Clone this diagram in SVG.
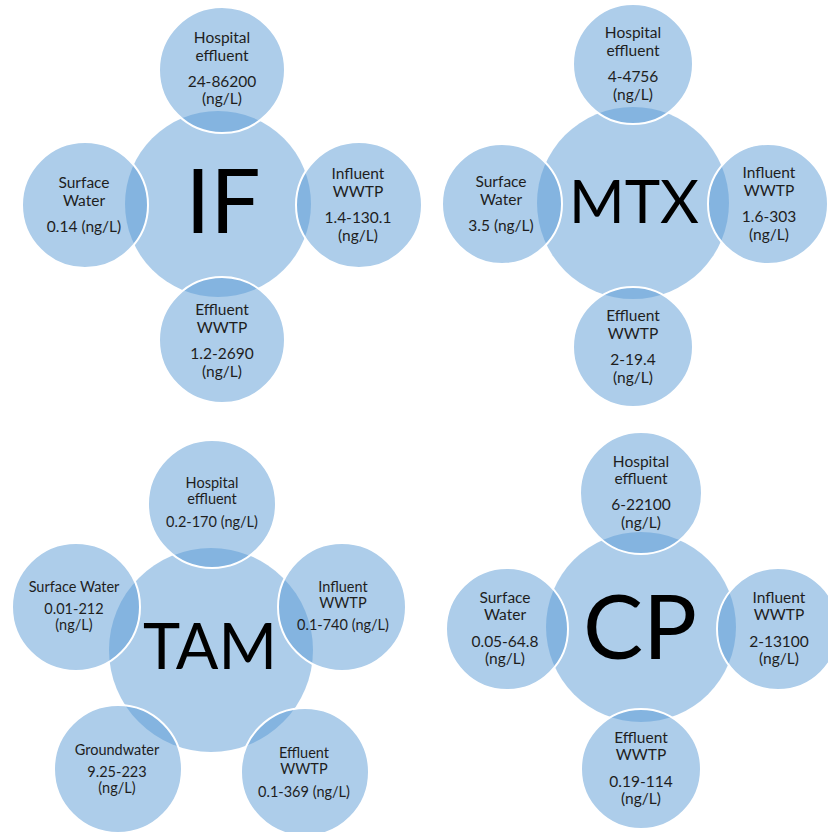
<svg xmlns="http://www.w3.org/2000/svg" width="828" height="832" viewBox="0 0 828 832">
<style>
.hub{fill:#5B9BD5;fill-opacity:0.5;stroke:none}
.sat{fill:#5B9BD5;fill-opacity:0.5;stroke:#FFFFFF;stroke-width:2}
.t{font-family:Lato,"Liberation Sans",sans-serif;font-size:15.5px;fill:#1E1E1E;text-anchor:middle}
.ts{font-family:Lato,"Liberation Sans",sans-serif;font-size:14.5px;fill:#1E1E1E;text-anchor:middle}
.big{font-family:Lato,"Liberation Sans",sans-serif;fill:#000000;text-anchor:middle}
</style>
<rect width="828" height="832" fill="#FFFFFF"/>

<!-- IF cluster -->
<g id="if-hub"><circle class="hub" cx="218" cy="204" r="93"/><text class="big" x="223" y="233" font-size="89">IF</text></g>
<g id="if-hospital"><circle class="sat" cx="222" cy="70" r="63"/>
<text class="t" x="222" y="43">Hospital</text><text class="t" x="222" y="61">effluent</text><text class="t" x="222" y="87">24-86200</text><text class="t" x="222" y="104">(ng/L)</text></g>
<g id="if-surface"><circle class="sat" cx="85" cy="205" r="63"/>
<text class="t" x="84" y="188">Surface</text><text class="t" x="84" y="206">Water</text><text class="t" x="84" y="232">0.14 (ng/L)</text></g>
<g id="if-influent"><circle class="sat" cx="359" cy="205" r="63"/>
<text class="t" x="358" y="179">Influent</text><text class="t" x="358" y="197">WWTP</text><text class="t" x="358" y="223">1.4-130.1</text><text class="t" x="358" y="241">(ng/L)</text></g>
<g id="if-effluent"><circle class="sat" cx="222" cy="340" r="63"/>
<text class="t" x="222" y="315">Effluent</text><text class="t" x="222" y="333">WWTP</text><text class="t" x="222" y="359">1.2-2690</text><text class="t" x="222" y="377">(ng/L)</text></g>

<!-- MTX cluster -->
<g id="mtx-hub"><circle class="hub" cx="633" cy="203" r="96"/><text class="big" x="634" y="223" font-size="60">MTX</text></g>
<g id="mtx-hospital"><circle class="sat" cx="633" cy="64" r="60"/>
<text class="t" x="633" y="38">Hospital</text><text class="t" x="633" y="56">effluent</text><text class="t" x="633" y="82">4-4756</text><text class="t" x="633" y="100">(ng/L)</text></g>
<g id="mtx-surface"><circle class="sat" cx="502" cy="204" r="60"/>
<text class="t" x="501" y="187">Surface</text><text class="t" x="501" y="205">Water</text><text class="t" x="501" y="231">3.5 (ng/L)</text></g>
<g id="mtx-influent"><circle class="sat" cx="768" cy="204" r="60"/>
<text class="t" x="769" y="178">Influent</text><text class="t" x="769" y="196">WWTP</text><text class="t" x="769" y="222">1.6-303</text><text class="t" x="769" y="240">(ng/L)</text></g>
<g id="mtx-effluent"><circle class="sat" cx="633" cy="347" r="60"/>
<text class="t" x="633" y="321">Effluent</text><text class="t" x="633" y="339">WWTP</text><text class="t" x="633" y="365">2-19.4</text><text class="t" x="633" y="383">(ng/L)</text></g>

<!-- TAM cluster -->
<g id="tam-hub"><circle class="hub" cx="211" cy="650" r="102"/><text class="big" x="210" y="669" font-size="63">TAM</text></g>
<g id="tam-hospital"><circle class="sat" cx="212" cy="504" r="64"/>
<text class="ts" x="212" y="488">Hospital</text><text class="ts" x="212" y="504">effluent</text><text class="ts" x="212" y="527">0.2-170 (ng/L)</text></g>
<g id="tam-surface"><circle class="sat" cx="76" cy="607" r="64"/>
<text class="ts" x="74" y="592">Surface Water</text><text class="ts" x="74" y="614">0.01-212</text><text class="ts" x="74" y="630">(ng/L)</text></g>
<g id="tam-influent"><circle class="sat" cx="342" cy="607" r="64"/>
<text class="ts" x="343" y="592">Influent</text><text class="ts" x="343" y="608">WWTP</text><text class="ts" x="343" y="630">0.1-740 (ng/L)</text></g>
<g id="tam-groundwater"><circle class="sat" cx="118" cy="769" r="64"/>
<text class="ts" x="117" y="755">Groundwater</text><text class="ts" x="117" y="777">9.25-223</text><text class="ts" x="117" y="793">(ng/L)</text></g>
<g id="tam-effluent"><circle class="sat" cx="305" cy="772" r="64"/>
<text class="ts" x="304" y="758">Effluent</text><text class="ts" x="304" y="774">WWTP</text><text class="ts" x="304" y="797">0.1-369 (ng/L)</text></g>

<!-- CP cluster -->
<g id="cp-hub"><circle class="hub" cx="641" cy="627" r="95"/><text class="big" x="640" y="659" font-size="90">CP</text></g>
<g id="cp-hospital"><circle class="sat" cx="641" cy="493" r="61"/>
<text class="t" x="641" y="467">Hospital</text><text class="t" x="641" y="484">effluent</text><text class="t" x="641" y="510">6-22100</text><text class="t" x="641" y="528">(ng/L)</text></g>
<g id="cp-surface"><circle class="sat" cx="507" cy="629" r="61"/>
<text class="t" x="505" y="603">Surface</text><text class="t" x="505" y="620">Water</text><text class="t" x="505" y="647">0.05-64.8</text><text class="t" x="505" y="664">(ng/L)</text></g>
<g id="cp-influent"><circle class="sat" cx="778" cy="629" r="61"/>
<text class="t" x="779" y="603">Influent</text><text class="t" x="779" y="620">WWTP</text><text class="t" x="779" y="647">2-13100</text><text class="t" x="779" y="664">(ng/L)</text></g>
<g id="cp-effluent"><circle class="sat" cx="641" cy="769" r="60"/>
<text class="t" x="641" y="743">Effluent</text><text class="t" x="641" y="760">WWTP</text><text class="t" x="641" y="787">0.19-114</text><text class="t" x="641" y="804">(ng/L)</text></g>
</svg>
